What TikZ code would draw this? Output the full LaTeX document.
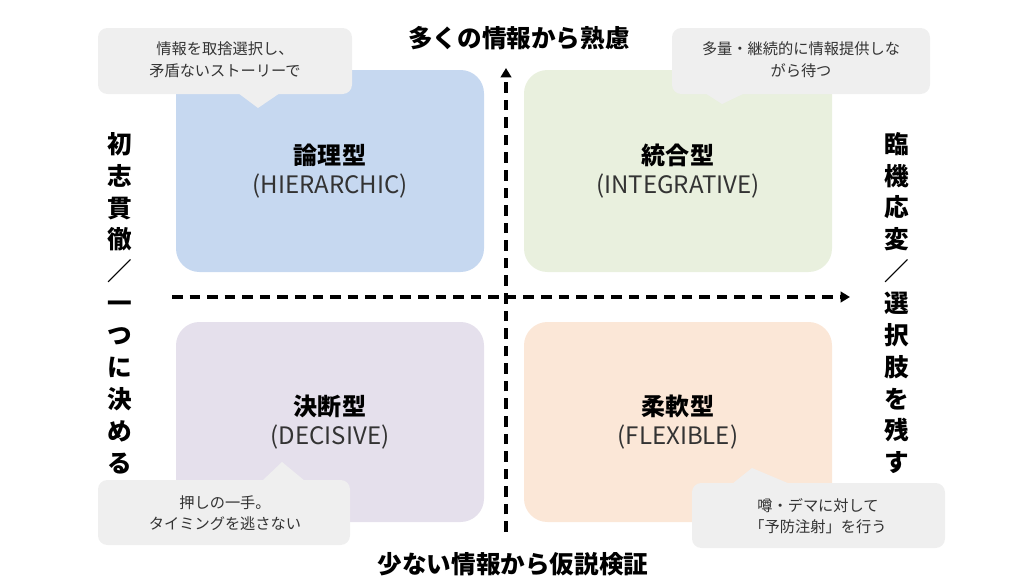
\documentclass[tikz,border=0pt]{standalone}
\usepackage{fontspec}
\setmainfont{Noto Sans CJK JP}
\usetikzlibrary{arrows.meta}
\definecolor{cb}{HTML}{C6D8F0}
\definecolor{cg}{HTML}{E9F0DE}
\definecolor{cl}{HTML}{E5E0EC}
\definecolor{cp}{HTML}{FBE7D7}
\definecolor{cc}{HTML}{EFEFEF}
\begin{document}
\begin{tikzpicture}[x=0.03cm,y=-0.03cm,
  ttl/.style={font=\fontsize{20.5}{24}\selectfont\bfseries},
  sub/.style={font=\fontsize{20.5}{24}\selectfont,text=black!80},
  axl/.style={font=\fontsize{21}{24}\selectfont\bfseries},
  cal/.style={fill=cc,rounded corners=8},
  calt/.style={font=\fontsize{13}{18.5}\selectfont,align=center,text=black!80},
  vch/.style={font=\fontsize{21}{27.2}\selectfont\bfseries,align=center},
  ax/.style={line width=3pt,dash pattern=on 9pt off 6pt,-{Triangle[width=9pt,length=8pt]}}]
\useasboundingbox (0,0) rectangle (1024,588);
\fill[cb,rounded corners=20] (176,70) rectangle (484,272);
\fill[cg,rounded corners=20] (524,70) rectangle (832,272);
\fill[cl,rounded corners=20] (176,322) rectangle (484,522);
\fill[cp,rounded corners=20] (524,322) rectangle (832,522);
\node[ttl] (t1) at (330,155) {論理型};
\node[sub] (s1) at (330,186) {(HIERARCHIC)};
\node[ttl] (t2) at (678,155) {統合型};
\node[sub] (s2) at (678,186) {(INTEGRATIVE)};
\node[ttl] (t3) at (330,406) {決断型};
\node[sub] (s3) at (330,437) {(DECISIVE)};
\node[ttl] (t4) at (678,406) {柔軟型};
\node[sub] (s4) at (678,437) {(FLEXIBLE)};
\coordinate (vb) at (506,532);
\coordinate (vt) at (506,68);
\coordinate (hl) at (172,297);
\coordinate (hr) at (850,297);
\draw[ax] (vb) -- (vt);
\draw[ax] (hl) -- (hr);
\node[axl] (top) at (519,38) {多くの情報から熟慮};
\node[axl] (bot) at (513,564) {少ない情報から仮説検証};
\node[vch] (lft) at (120,303) {初\\志\\貫\\徹\\／\\一\\つ\\に\\決\\め\\る};
\node[vch] (rgt) at (897,303) {臨\\機\\応\\変\\／\\選\\択\\肢\\を\\残\\す};
% callouts
\fill[cal] (98,28) rectangle (352,94);
\fill[cc] (238,93) -- (258,108) -- (280,93) -- cycle;
\node[calt] (c1) at (225,60) {情報を取捨選択し、\\矛盾ないストーリーで};
\fill[cal] (672,28) rectangle (930,94);
\fill[cc] (705,93) -- (722,104) -- (745,93) -- cycle;
\node[calt] (c2) at (801,60) {多量・継続的に情報提供しな\\がら待つ};
\fill[cal] (98,480) rectangle (350,545);
\fill[cc] (262,481) -- (282,462) -- (305,481) -- cycle;
\node[calt] (c3) at (225,513) {押しの一手。\\タイミングを逃さない};
\fill[cal] (692,483) rectangle (945,548);
\fill[cc] (732,484) -- (752,468) -- (790,484) -- cycle;
\node[calt] (c4) at (818,516) {噂・デマに対して\\「予防注射」を行う};
\end{tikzpicture}
\end{document}
